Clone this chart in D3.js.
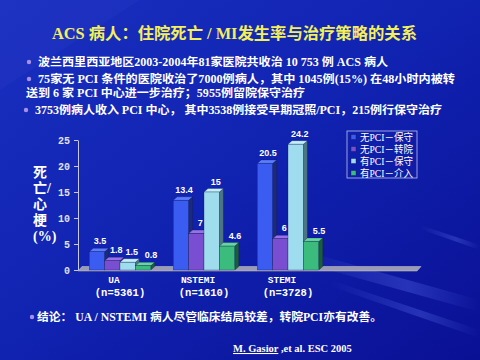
<!DOCTYPE html>
<html><head><meta charset="utf-8">
<script src="https://cdn.jsdelivr.net/npm/d3@7"></script>
<style>
html,body{margin:0;padding:0;background:#0c1496;}
svg{display:block;}
</style></head>
<body>
<svg id="c" width="480" height="360"></svg>
<script>
// ---- data ----
const categories = ["UA", "NSTEMI", "STEMI"];
const categoryN = ["(n=5361)", "(n=1610)", "(n=3728)"];
const seriesNames = ["无PCI－保守", "无PCI－转院", "有PCI－保守", "有PCI－介入"];
const noPciConservative = [3.5, 13.4, 20.5];
const noPciTransfer = [1.8, 7, 6];
const pciConservative = [1.5, 15, 24.2];
const pciIntervention = [0.8, 4.6, 5.5];
const yTicks = [0, 5, 10, 15, 20, 25];
const titleText = "ACS 病人：住院死亡 / MI发生率与治疗策略的关系";
const bulletLines = [
  "波兰西里西亚地区2003-2004年81家医院共收治 10 753 例 ACS  病人",
  "75家无  PCI  条件的医院收治了7000例病人，其中 1045例(15%) 在48小时内被转",
  "送到 6 家 PCI  中心进一步治疗；5955例留院保守治疗",
  "3753例病人收入 PCI 中心， 其中3538例接受早期冠照/PCI，215例行保守治疗"
];
const conclusionText = "结论：  UA / NSTEMI 病人尽管临床结局较差，转院PCI亦有改善。";
const citeAuthor = "M. Gasior";
const citeRest = " ,et al. ESC 2005";
const yLabelLines = ["死", "亡/", "心", "梗", "(%)"];

const seriesValues = [noPciConservative, noPciTransfer, pciConservative, pciIntervention];

// ---- styles ----
const front = ["#3a5cf0", "#7a4ed0", "#9fdcee", "#3cbc7c"];
const side  = ["#1c2a78", "#3a2870", "#4d7684", "#1d5c3c"];
const topC  = ["#5a7cff", "#9a70e8", "#c4f0fa", "#66d89c"];
const labelDx = [3, 4, 4, 8];
const serif = "'Liberation Serif','Noto Sans CJK SC',serif";
const mono = "'Liberation Mono','DejaVu Sans Mono',monospace";

const svg = d3.select("#c");
const defs = svg.append("defs");
const bg = defs.append("linearGradient").attr("id","bg").attr("x1","0").attr("y1","0").attr("x2","1").attr("y2","1");
bg.append("stop").attr("offset","0").attr("stop-color","#1a30c0");
bg.append("stop").attr("offset","0.5").attr("stop-color","#1022b0");
bg.append("stop").attr("offset","1").attr("stop-color","#0a1094");
svg.append("rect").attr("width",480).attr("height",360).attr("fill","url(#bg)");

// soft diagonal streaks
const streak = defs.append("linearGradient").attr("id","st").attr("x1","0").attr("y1","0").attr("x2","1").attr("y2","0");
streak.append("stop").attr("offset","0").attr("stop-color","#6a80ff").attr("stop-opacity","0");
streak.append("stop").attr("offset","0.6").attr("stop-color","#6a80ff").attr("stop-opacity","0.28");
streak.append("stop").attr("offset","1").attr("stop-color","#6a80ff").attr("stop-opacity","0");
[[300,250,480,300,480,312,300,262],[330,280,480,330,480,338,330,286],[420,225,480,245,480,250,420,229]].forEach(p=>{
  svg.append("polygon").attr("points",`${p[0]},${p[1]} ${p[2]},${p[3]} ${p[4]},${p[5]} ${p[6]},${p[7]}`).attr("fill","url(#st)");
});
svg.append("polygon").attr("points","0,0 140,0 0,90").attr("fill","#2a3cc8").attr("opacity",0.25);

// ---- title ----
svg.append("text").attr("x",52).attr("y",39).attr("fill","#f4f05a")
  .attr("font-family",serif).attr("font-weight","bold").attr("font-size",16)
  .attr("textLength",365).attr("lengthAdjust","spacingAndGlyphs").text(titleText);

// ---- bullets ----
const bulletSpec = [
  {x:38, y:66, w:350, dot:true},
  {x:38, y:83, w:417, dot:true},
  {x:26, y:97, w:279, dot:false},
  {x:35, y:114, w:407, dot:true}
];
bulletLines.forEach((t,i)=>{
  const s = bulletSpec[i];
  if (s.dot) svg.append("circle").attr("cx", s.x-9).attr("cy", s.y-4).attr("r",2.2).attr("fill","#a890e8");
  svg.append("text").attr("x",s.x).attr("y",s.y).attr("fill","#ffffff")
    .attr("font-family",serif).attr("font-weight","bold").attr("font-size",11.5)
    .attr("textLength",s.w).attr("lengthAdjust","spacingAndGlyphs").text(t);
});

// ---- chart ----
const x0 = d3.scaleBand().domain(d3.range(4)).range([78, 414]);
const x1 = d3.scaleBand().domain(d3.range(seriesNames.length)).range([11.2, 72.8]);
const y = d3.scaleLinear().domain([0, 25]).range([270, 140]);
const dx = 4, dy = 3.5;

// floor
const y0 = y(0);
svg.append("polygon")
  .attr("points", `${x0.range()[0]},${y0+1} ${x0.range()[1]+3},${y0+1} ${x0.range()[1]+3+dx},${y0-dy} ${x0.range()[0]+dx},${y0-dy}`)
  .attr("fill","#9c9cb0").attr("stroke","#c8c8d8").attr("stroke-width",0.5);

// axis
const ax = svg.append("g").attr("transform","translate(78,0)")
  .call(d3.axisLeft(y).tickValues(yTicks).tickSize(4).tickSizeOuter(0).tickPadding(4));
ax.select(".domain").attr("stroke","#c8c8dc");
ax.selectAll(".tick line").attr("stroke","#c8c8dc");
ax.selectAll(".tick text").attr("fill","#e0e0ec").attr("font-family",mono)
  .attr("font-weight","bold").attr("font-size",10);

// bars
const bars = svg.append("g");
categories.forEach((c, ci) => {
  seriesValues.forEach((vals, si) => {
    const v = vals[ci];
    const bx = x0(ci) + x1(si), w = x1.bandwidth();
    const yt = y(v);
    const g = bars.append("g");
    g.append("polygon").attr("points", `${bx+w},${yt} ${bx+w+dx},${yt-dy} ${bx+w+dx},${y0-dy} ${bx+w},${y0}`)
      .attr("fill", side[si]).attr("stroke","#10184a").attr("stroke-width",0.3);
    g.append("polygon").attr("points", `${bx},${yt} ${bx+dx},${yt-dy} ${bx+w+dx},${yt-dy} ${bx+w},${yt}`)
      .attr("fill", topC[si]).attr("stroke","#10184a").attr("stroke-width",0.3);
    g.append("rect").attr("x",bx).attr("y",yt).attr("width",w).attr("height",y0-yt)
      .attr("fill", front[si]).attr("stroke","#10184a").attr("stroke-width",0.3);
  });
});
// value labels
categories.forEach((c, ci) => {
  seriesValues.forEach((vals, si) => {
    const v = vals[ci];
    svg.append("text").attr("x", x0(ci) + x1(si) + x1.bandwidth()/2 + labelDx[si]).attr("y", y(v) - 7.5)
      .attr("text-anchor","middle").attr("fill","#ffffff").attr("font-family","'Liberation Sans',Arial,sans-serif")
      .attr("font-weight","bold").attr("font-size",9).text(v);
  });
});
// category labels
categories.forEach((c, ci) => {
  const cx = x0(ci) + x0.bandwidth()/2;
  svg.append("text").attr("x", cx - 6).attr("y", 283).attr("text-anchor","middle")
    .attr("fill","#ffffff").attr("font-family",mono).attr("font-weight","bold").attr("font-size",9.5).text(c);
  svg.append("text").attr("x", cx).attr("y", 296).attr("text-anchor","middle")
    .attr("fill","#ffffff").attr("font-family",mono).attr("font-weight","bold").attr("font-size",10.5).text(categoryN[ci]);
});

// y label
yLabelLines.forEach((t,i)=>{
  svg.append("text").attr("x",33).attr("y",177 + i*16).attr("fill","#ffffff")
    .attr("font-family",serif).attr("font-weight","bold").attr("font-size",14).text(t);
});

// legend
const lg = svg.append("g");
lg.append("rect").attr("x",347).attr("y",131).attr("width",70).attr("height",47)
  .attr("fill","none").attr("stroke","#b8c0f0").attr("stroke-width",0.8);
seriesNames.forEach((n,i)=>{
  const ly = 137 + i*12;
  lg.append("rect").attr("x",351).attr("y",ly-2.5).attr("width",5).attr("height",5)
    .attr("fill",front[i]).attr("stroke","#101850").attr("stroke-width",0.4);
  lg.append("text").attr("x",360).attr("y",ly+3.5).attr("fill","#ffffff")
    .attr("font-family",serif).attr("font-size",10).attr("textLength",53)
    .attr("lengthAdjust","spacingAndGlyphs").text(n);
});

// conclusion
svg.append("circle").attr("cx",32).attr("cy",317).attr("r",2.2).attr("fill","#a890e8");
svg.append("text").attr("x",37).attr("y",321).attr("fill","#ffffff")
  .attr("font-family",serif).attr("font-weight","bold").attr("font-size",11.5)
  .attr("textLength",345).attr("lengthAdjust","spacingAndGlyphs").text(conclusionText);

// citation
const cite = svg.append("text").attr("x",233).attr("y",352).attr("fill","#ffffff")
  .attr("font-family",serif).attr("font-weight","bold").attr("font-size",10.5);
cite.append("tspan").attr("text-decoration","underline").text(citeAuthor);
cite.append("tspan").text(citeRest);
</script>
</body></html>
